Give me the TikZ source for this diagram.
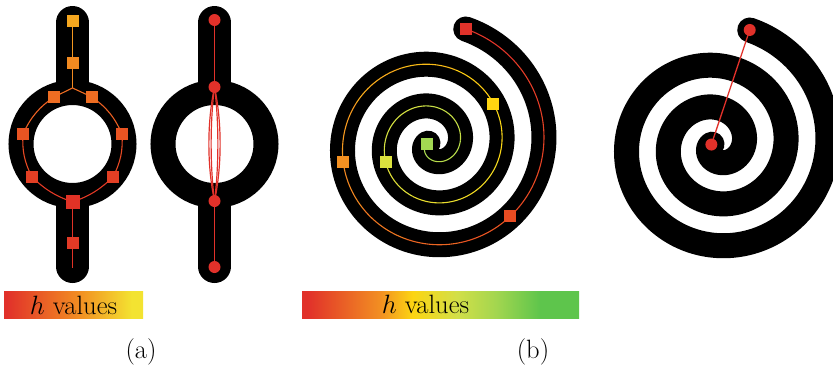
\documentclass[tikz,border=0pt]{standalone}
\usepackage{fix-cm}
\usepackage{tikz}
\usetikzlibrary{calc,positioning}
\definecolor{hRed}{HTML}{E1312A}
\definecolor{hOrange}{HTML}{F28E22}
\definecolor{hYellowA}{HTML}{F3E331}
\definecolor{hYellow}{HTML}{FCD512}
\definecolor{hLime}{HTML}{D2DF48}
\definecolor{hLightGreen}{HTML}{A3D64F}
\definecolor{hGreen}{HTML}{5EC54C}
% squares on the ring graph
\definecolor{qaA}{HTML}{F5A71F}
\definecolor{qaB}{HTML}{F28A20}
\definecolor{qaC}{HTML}{EE6D22}
\definecolor{qaD}{HTML}{E95422}
\definecolor{qaE}{HTML}{E33F24}
\definecolor{qaF}{HTML}{E13226}
\definecolor{qaG}{HTML}{E23A26}
% squares on the spiral
\definecolor{qbA}{HTML}{A2D852}
\definecolor{qbB}{HTML}{DCE23E}
\definecolor{qbC}{HTML}{FFD510}
\definecolor{qbD}{HTML}{F39021}
\definecolor{qbE}{HTML}{E84C22}
\definecolor{qbF}{HTML}{E0322A}
\pgfdeclarehorizontalshading{hvalsA}{100bp}{color(0bp)=(hRed); color(26bp)=(hRed); color(52bp)=(hOrange); color(71bp)=(hYellowA); color(100bp)=(hYellowA)}
\pgfdeclarehorizontalshading{hvalsB}{100bp}{color(0bp)=(hRed); color(26bp)=(hRed); color(39bp)=(hOrange); color(45bp)=(hYellow); color(53bp)=(hLime); color(60bp)=(hLightGreen); color(68bp)=(hGreen); color(100bp)=(hGreen)}
\tikzset{
  declare function={spr(\t)=27+0.1167*(\t);},
  band/.style={line width=25pt, line cap=round},
  stick/.style={line width=33pt, line cap=round},
  ring/.style={line width=25pt},
  hline/.style={line width=1.1pt},
  redline/.style={line width=1.3pt, hRed},
  sq/.style={rectangle, minimum size=12pt, inner sep=0pt},
  rdot/.style={circle, fill=hRed, minimum size=12pt, inner sep=0pt},
  cbar/.style={minimum width=#1, minimum height=27pt, inner sep=0pt},
  note/.style={font=\fontsize{26.5}{30}\selectfont}
}

\begin{document}
\begin{tikzpicture}[x=1pt, y=-1pt]
  \useasboundingbox (0,0) rectangle (833,367);

  % (a) ring with graph
  \draw[stick] (72.5,22.5) -- (72.5,85);
  \draw[stick] (72.5,203) -- (72.5,266.5);
  \draw[ring] (72.5,144) circle[radius=51.5pt];

  \coordinate (qa1) at (72.5,21);
  \coordinate (qa2) at (72.5,63);
  \coordinate (ja) at (72.5,88);
  \coordinate (qa3l) at (54,97);
  \coordinate (qa3r) at (92,97);
  \coordinate (qa4l) at (23,134);
  \coordinate (qa4r) at (122,134);
  \coordinate (qa5l) at (32,177);
  \coordinate (qa5r) at (113,177);
  \coordinate (qa6) at (72.5,202);
  \coordinate (qa7) at (72.5,243);
  \coordinate (ea) at (72.5,268);

  \draw[hline, qaA!50!qaB] (qa1) -- (qa2);
  \draw[hline, qaB] (qa2) -- (ja);
  \draw[hline, qaC] (ja) -- (qa3l);
  \draw[hline, qaC] (ja) -- (qa3r);
  \draw[hline, qaC!50!qaD] (qa3l) to[bend right=15] (qa4l);
  \draw[hline, qaC!50!qaD] (qa3r) to[bend left=15] (qa4r);
  \draw[hline, qaD!50!qaE] (qa4l) to[bend right=15] (qa5l);
  \draw[hline, qaD!50!qaE] (qa4r) to[bend left=15] (qa5r);
  \draw[hline, qaE!50!qaF] (qa5l) to[bend right=12] (qa6);
  \draw[hline, qaE!50!qaF] (qa5r) to[bend left=12] (qa6);
  \draw[hline, qaF] (qa6) -- (qa7) -- (ea);

  \foreach \n/\c in {qa1/qaA, qa2/qaB, qa3l/qaC, qa3r/qaC, qa4l/qaD, qa4r/qaD,
                     qa5l/qaE, qa5r/qaE, qa7/qaG}
    \node[sq, fill=\c] (n\n) at (\n) {};
  \node[sq, fill=qaF, minimum size=14pt] (nqa6) at (qa6) {};

  % (a) ring with lens of paths
  \draw[stick] (214.5,22.5) -- (214.5,85);
  \draw[stick] (214.5,203) -- (214.5,266.5);
  \draw[ring] (214.5,144) circle[radius=51.5pt];

  \coordinate (rb1) at (214.5,20);
  \coordinate (rb2) at (214.5,87);
  \coordinate (rb3) at (214.5,201);
  \coordinate (rb4) at (214.5,267);
  \draw[redline] (rb1) -- (rb2);
  \draw[redline] (rb3) -- (rb4);
  \foreach \k in {-7.5,-4.5,4.5,7.5}
    \draw[redline, line width=1.2pt] (rb2) .. controls ($(rb2)+(\k,35)$) and ($(rb3)+(\k,-35)$) .. (rb3);
  \foreach \n in {rb1,rb2,rb3,rb4}
    \node[rdot] (n\n) at (\n) {};

  % (b) spiral with graph
  \draw[band] plot[domain=-190:794, samples=300, smooth] ({432.75+spr(\x)*cos(\x)},{144-spr(\x)*sin(\x)});
  \foreach \sa/\sb/\ca/\cb in {-185/200.5/qbA/qbB, 200.5/393.6/qbB/qbC, 393.6/551.3/qbC/qbD,
                               551.3/677/qbD/qbE, 677/794/qbE/qbF}{
    \foreach \k in {0,1,2,3}{
      \pgfmathsetmacro\ta{\sa+(\sb-\sa)*\k/4}
      \pgfmathsetmacro\tb{\sa+(\sb-\sa)*(\k+1)/4}
      \pgfmathsetmacro\p{87.5-25*\k}
      \draw[hline, \ca!\p!\cb] plot[domain=\ta:\tb, samples=30, smooth]
        ({432.75+spr(\x)*cos(\x)},{144-spr(\x)*sin(\x)});
    }
  }
  \foreach \n/\ang/\c in {s0/-185/qbA, s1/200.5/qbB, s2/393.6/qbC, s3/551.3/qbD, s4/677/qbE, s5/794/qbF}{
    \coordinate (\n) at ({432.75+spr(\ang)*cos(\ang)},{144-spr(\ang)*sin(\ang)});
    \node[sq, fill=\c] (n\n) at (\n) {};
  }

  % (b) spiral with one shortcut
  \begin{scope}[shift={(284,1)}]
    \draw[band] plot[domain=-190:794, samples=300, smooth] ({432.75+spr(\x)*cos(\x)},{144-spr(\x)*sin(\x)});
    \coordinate (t0) at ({432.75+spr(-185)*cos(-185)},{144-spr(-185)*sin(-185)});
    \coordinate (t1) at ({432.75+spr(794)*cos(794)},{144-spr(794)*sin(794)});
    \draw[redline] (t0) -- (t1);
    \node[rdot] (nt0) at (t0) {};
    \node[rdot] (nt1) at (t1) {};
  \end{scope}

  % colour bars
  \node[cbar=139pt, shade, shading=hvalsA] (barA) at (73.5,305) {};
  \node[note] (txtA) at (barA.center) {$h$ values};
  \node[cbar=277pt, shade, shading=hvalsB] (barB) at (440.5,304.5) {};
  \node[note] (txtB) at ($(barB.center)+(-15,0)$) {$h$ values};

  \node[note] (labA) at (141,352) {(a)};
  \node[note] (labB) at (533,352) {(b)};
\end{tikzpicture}
\end{document}
